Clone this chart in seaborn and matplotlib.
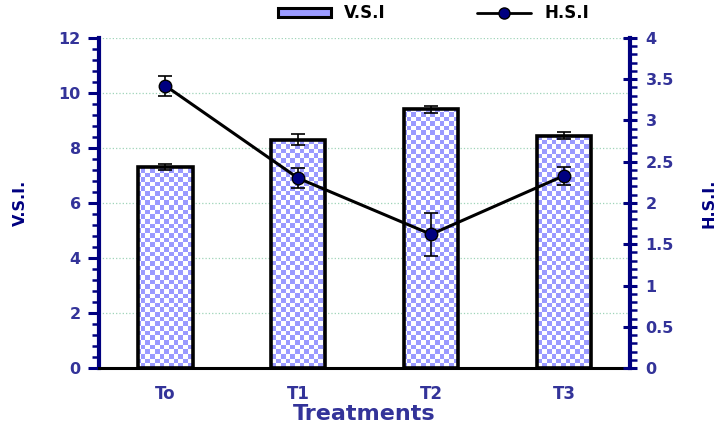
import numpy as np
import pandas as pd
import matplotlib
matplotlib.use('Agg')
import matplotlib.pyplot as plt
import seaborn as sns
from matplotlib.ticker import MultipleLocator
from matplotlib.colors import ListedColormap
from matplotlib.patches import Patch
from matplotlib.lines import Line2D

treatments = ['To', 'T1', 'T2', 'T3']
vsi = [7.3, 8.3, 9.4, 8.45]
vsi_err = [0.12, 0.2, 0.13, 0.12]
hsi = [3.42, 2.3, 1.62, 2.33]
hsi_err = [0.12, 0.12, 0.26, 0.11]

sns.set_style('white')
plt.rcParams['font.family'] = ['DejaVu Sans']
plt.rcParams['font.weight'] = 'bold'
plt.rcParams['axes.labelweight'] = 'bold'

navy = '#000080'
txt = '#333399'
check_blue = '#9a9aff'

df = pd.DataFrame({'Treatment': treatments, 'VSI': vsi})

fig = plt.figure(figsize=(7.22, 4.3), dpi=100)
ax = fig.add_axes([0.137, 0.144, 0.736, 0.768])

sns.barplot(data=df, x='Treatment', y='VSI', ax=ax, color='white',
            width=0.41, edgecolor='black', linewidth=2.6, zorder=2)
ax.errorbar(range(len(treatments)), vsi, yerr=vsi_err, fmt='none',
            ecolor='black', elinewidth=1.2, capsize=5, capthick=1.2, zorder=4)

# checkerboard fill, clipped to each bar
nx, ny = 114, 71
board = (np.add.outer(np.arange(ny), np.arange(nx)) % 2)
for bar in list(ax.patches):
    bar.set_facecolor('none')
    im = ax.imshow(board, cmap=ListedColormap(['white', check_blue]),
                   extent=(-0.5, 3.5, 0, 12), aspect='auto',
                   interpolation='nearest', zorder=1.5)
    im.set_clip_path(bar)
ax.set_xlim(-0.5, 3.5)
ax.set_ylim(0, 12)

ax.yaxis.grid(True, color='#9fd4b8', linestyle=':', linewidth=0.9)
ax.set_axisbelow(True)
ax.yaxis.set_major_locator(MultipleLocator(2))
ax.yaxis.set_minor_locator(MultipleLocator(0.4))
ax.set_xticks([-0.5, 0.5, 1.5, 2.5, 3.5], minor=True)
ax.tick_params(axis='x', which='major', length=0, pad=12, labelsize=12,
               labelcolor=txt)
ax.tick_params(axis='x', which='minor', length=5, width=2, color='black',
               direction='out')
ax.tick_params(axis='y', which='major', length=8, width=2.2, color=navy,
               labelsize=11.5, labelcolor=txt, pad=5)
ax.tick_params(axis='y', which='minor', length=5, width=1.8, color=navy)
for s in ['top', 'right']:
    ax.spines[s].set_visible(False)
ax.spines['left'].set_color(navy)
ax.spines['left'].set_linewidth(3)
ax.spines['bottom'].set_color('black')
ax.spines['bottom'].set_linewidth(2.2)
ax.set_xlabel('Treatments', fontsize=16, color=txt, labelpad=1)
ax.set_ylabel('V.S.I.', fontsize=11.5, color=navy, labelpad=22)

ax2 = ax.twinx()
sns.lineplot(x=range(len(treatments)), y=hsi, ax=ax2, color='black',
             linewidth=2.2, marker='o', markersize=9, markerfacecolor=navy,
             markeredgecolor='black', markeredgewidth=1, zorder=5)
ax2.errorbar(range(len(treatments)), hsi, yerr=hsi_err, fmt='none',
             ecolor='black', elinewidth=1.2, capsize=5, capthick=1.2, zorder=4)
ax2.set_ylim(0, 4)
ax2.set_xlim(-0.5, 3.5)
ax2.yaxis.set_major_locator(MultipleLocator(0.5))
ax2.yaxis.set_minor_locator(MultipleLocator(0.1))
ax2.yaxis.set_major_formatter(matplotlib.ticker.FuncFormatter(lambda v, p: f'{v:g}'))
ax2.tick_params(axis='y', which='major', length=10, width=2.2, color=navy,
                direction='inout', labelsize=11.5, labelcolor=txt, pad=6)
ax2.tick_params(axis='y', which='minor', length=5, width=1.8, color=navy)
for s in ['top', 'left', 'bottom']:
    ax2.spines[s].set_visible(False)
ax2.spines['right'].set_color(navy)
ax2.spines['right'].set_linewidth(3)
ax2.set_ylabel('H.S.I.', fontsize=11.5, color=navy, labelpad=20)

handles = [Patch(facecolor=check_blue, edgecolor='black', linewidth=2.2),
           Line2D([0], [0], color='black', linewidth=2, marker='o',
                  markersize=8, markerfacecolor=navy, markeredgecolor='black')]
fig.legend(handles, ['V.S.I', 'H.S.I'], loc='upper center',
           bbox_to_anchor=(0.6, 1.025), ncol=2, frameon=False, fontsize=12,
           handlelength=3.2, handleheight=0.5, columnspacing=5.5,
           labelcolor='black')

fig.savefig('out.png', dpi=100)
